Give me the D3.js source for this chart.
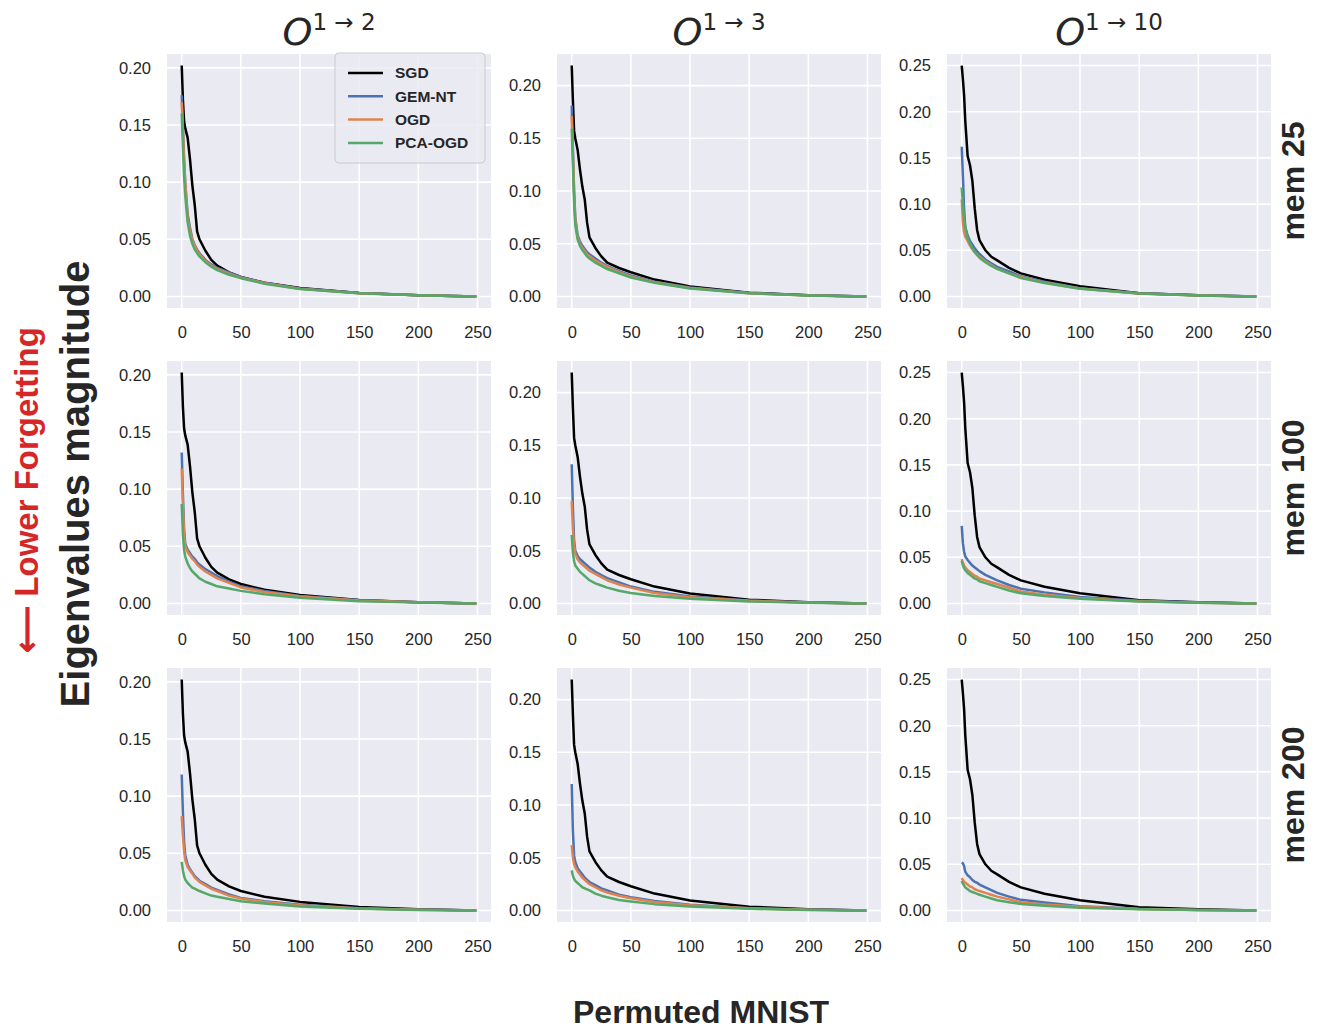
<!DOCTYPE html>
<html>
<head>
<meta charset="utf-8">
<script src="https://cdn.jsdelivr.net/npm/d3@7"></script>
<style>
  html, body { margin: 0; padding: 0; background: #ffffff; }
  svg { display: block; }
</style>
</head>
<body>
<svg id="chart" width="1317" height="1029"></svg>
<script>
// ---------------- DATA ----------------
const xSteps = [0,1,2,3,5,7,9,11,13,15,20,25,30,40,50,70,100,150,200,249];
const xTicks = [0,50,100,150,200,250];
const yTicksCol = [[0,0.05,0.10,0.15,0.20],[0,0.05,0.10,0.15,0.20],[0,0.05,0.10,0.15,0.20,0.25]];
const colSuper = ["1 \u2192 2","1 \u2192 3","1 \u2192 10"];
const rowLabels = ["mem 25","mem 100","mem 200"];
const seriesNames = ["SGD","GEM-NT","OGD","PCA-OGD"];
const seriesColors = ["#000000","#4c72b0","#dd8452","#55a868"];

// SGD does not depend on memory: one curve per column
const sgdCol1 = [0.202,0.172,0.153,0.147,0.139,0.120,0.097,0.080,0.057,0.050,0.040,0.032,0.027,0.021,0.017,0.012,0.0075,0.003,0.001,0.0];
const sgdCol2 = [0.219,0.185,0.157,0.150,0.139,0.120,0.104,0.092,0.070,0.056,0.046,0.038,0.032,0.027,0.023,0.016,0.0095,0.0035,0.0012,0.0];
const sgdCol3 = [0.250,0.235,0.218,0.190,0.152,0.142,0.125,0.095,0.072,0.061,0.050,0.043,0.039,0.031,0.025,0.018,0.011,0.0035,0.0012,0.0];

// row 1: mem 25
const gemR1C1 = [0.176,0.150,0.120,0.098,0.072,0.060,0.050,0.045,0.041,0.038,0.032,0.028,0.025,0.021,0.017,0.012,0.007,0.003,0.001,0.0];
const ogdR1C1 = [0.170,0.145,0.118,0.100,0.068,0.058,0.049,0.044,0.040,0.037,0.031,0.027,0.024,0.020,0.0165,0.0115,0.0068,0.0029,0.001,0.0];
const pcaR1C1 = [0.160,0.130,0.105,0.088,0.065,0.053,0.046,0.041,0.038,0.035,0.030,0.026,0.023,0.019,0.016,0.011,0.0065,0.0028,0.001,0.0];
const gemR1C2 = [0.181,0.140,0.100,0.075,0.058,0.052,0.048,0.045,0.042,0.040,0.036,0.032,0.029,0.024,0.020,0.014,0.0085,0.0033,0.0011,0.0];
const ogdR1C2 = [0.171,0.135,0.098,0.073,0.056,0.050,0.046,0.043,0.040,0.038,0.034,0.031,0.028,0.023,0.019,0.0135,0.008,0.003,0.001,0.0];
const pcaR1C2 = [0.159,0.125,0.090,0.068,0.054,0.048,0.044,0.041,0.038,0.036,0.032,0.029,0.026,0.022,0.018,0.013,0.0075,0.003,0.001,0.0];
const gemR1C3 = [0.162,0.130,0.095,0.075,0.066,0.060,0.056,0.052,0.049,0.046,0.040,0.036,0.032,0.027,0.022,0.016,0.009,0.0035,0.0012,0.0];
const ogdR1C3 = [0.105,0.080,0.069,0.065,0.060,0.055,0.051,0.048,0.045,0.043,0.038,0.034,0.030,0.025,0.021,0.015,0.0085,0.0033,0.0011,0.0];
const pcaR1C3 = [0.118,0.100,0.085,0.075,0.063,0.057,0.052,0.048,0.045,0.042,0.037,0.033,0.030,0.025,0.020,0.0145,0.0083,0.0032,0.001,0.0];

// row 2: mem 100
const gemR2C1 = [0.132,0.095,0.065,0.052,0.047,0.044,0.041,0.039,0.036,0.034,0.030,0.027,0.024,0.019,0.015,0.011,0.0065,0.0027,0.001,0.0];
const ogdR2C1 = [0.118,0.085,0.060,0.050,0.045,0.042,0.039,0.037,0.034,0.032,0.028,0.025,0.022,0.018,0.014,0.010,0.006,0.0025,0.001,0.0];
const pcaR2C1 = [0.087,0.060,0.047,0.041,0.035,0.031,0.028,0.026,0.024,0.022,0.019,0.017,0.015,0.013,0.011,0.008,0.005,0.002,0.0008,0.0];
const gemR2C2 = [0.132,0.090,0.060,0.050,0.045,0.042,0.040,0.038,0.036,0.034,0.030,0.027,0.024,0.020,0.016,0.011,0.0065,0.0027,0.001,0.0];
const ogdR2C2 = [0.097,0.070,0.055,0.047,0.042,0.039,0.037,0.035,0.033,0.031,0.028,0.025,0.022,0.018,0.015,0.010,0.006,0.0025,0.0009,0.0];
const pcaR2C2 = [0.065,0.048,0.040,0.036,0.033,0.030,0.028,0.026,0.024,0.022,0.019,0.017,0.015,0.012,0.010,0.007,0.0045,0.0018,0.0006,0.0];
const gemR2C3 = [0.084,0.065,0.056,0.051,0.047,0.044,0.041,0.039,0.037,0.035,0.031,0.028,0.025,0.020,0.016,0.012,0.007,0.0028,0.001,0.0];
const ogdR2C3 = [0.048,0.044,0.041,0.039,0.036,0.034,0.032,0.030,0.029,0.027,0.025,0.023,0.021,0.017,0.013,0.0095,0.0058,0.0023,0.0008,0.0];
const pcaR2C3 = [0.046,0.041,0.038,0.036,0.033,0.031,0.029,0.027,0.026,0.024,0.022,0.020,0.018,0.014,0.011,0.008,0.005,0.002,0.0007,0.0];

// row 3: mem 200
const gemR3C1 = [0.119,0.085,0.060,0.048,0.040,0.036,0.033,0.030,0.028,0.026,0.023,0.020,0.018,0.014,0.011,0.008,0.005,0.002,0.0008,0.0];
const ogdR3C1 = [0.0825,0.065,0.052,0.044,0.038,0.035,0.032,0.029,0.027,0.025,0.022,0.019,0.017,0.013,0.0105,0.0075,0.0045,0.0018,0.0007,0.0];
const pcaR3C1 = [0.0425,0.035,0.030,0.027,0.024,0.022,0.020,0.019,0.018,0.017,0.015,0.013,0.012,0.010,0.008,0.006,0.0035,0.0015,0.0005,0.0];
const gemR3C2 = [0.120,0.075,0.052,0.046,0.040,0.037,0.034,0.031,0.029,0.027,0.024,0.021,0.019,0.015,0.0125,0.009,0.0055,0.0022,0.0008,0.0];
const ogdR3C2 = [0.062,0.050,0.044,0.041,0.037,0.034,0.031,0.029,0.027,0.025,0.022,0.019,0.017,0.014,0.0115,0.008,0.005,0.002,0.0007,0.0];
const pcaR3C2 = [0.038,0.033,0.030,0.028,0.026,0.024,0.022,0.021,0.020,0.019,0.016,0.014,0.0125,0.010,0.0085,0.006,0.0038,0.0015,0.0005,0.0];
const gemR3C3 = [0.052,0.051,0.048,0.042,0.038,0.036,0.033,0.031,0.030,0.028,0.025,0.022,0.019,0.015,0.0115,0.0085,0.0045,0.0018,0.0006,0.0];
const ogdR3C3 = [0.035,0.033,0.031,0.030,0.028,0.026,0.025,0.023,0.022,0.021,0.019,0.017,0.015,0.012,0.0088,0.0065,0.004,0.0015,0.0005,0.0];
const pcaR3C3 = [0.032,0.029,0.027,0.025,0.023,0.021,0.020,0.019,0.018,0.017,0.015,0.013,0.011,0.009,0.007,0.005,0.003,0.0012,0.0004,0.0];

const sgdByCol = [sgdCol1, sgdCol2, sgdCol3];
const panelSeries = [
  [[gemR1C1,ogdR1C1,pcaR1C1],[gemR1C2,ogdR1C2,pcaR1C2],[gemR1C3,ogdR1C3,pcaR1C3]],
  [[gemR2C1,ogdR2C1,pcaR2C1],[gemR2C2,ogdR2C2,pcaR2C2],[gemR2C3,ogdR2C3,pcaR2C3]],
  [[gemR3C1,ogdR3C1,pcaR3C1],[gemR3C2,ogdR3C2,pcaR3C2],[gemR3C3,ogdR3C3,pcaR3C3]]
];

// ---------------- LAYOUT ----------------
const svg = d3.select("#chart");
const panelLeft = [167, 557, 947];
const panelTop = [54, 361, 668];
const panelW = 324, panelH = 254;
const FONT = "'Liberation Sans', Arial, Helvetica, sans-serif";
const textColor = "#262626";

const xMin = 0, xMax = 249;
const xPad = (xMax - xMin) * 0.05;

for (let r = 0; r < 3; r++) {
  for (let c = 0; c < 3; c++) {
    const g = svg.append("g").attr("transform", `translate(${panelLeft[c]},${panelTop[r]})`);
    const allSeries = [sgdByCol[c]].concat(panelSeries[r][c]);
    const yMaxData = d3.max(allSeries, s => d3.max(s));
    const yMinData = d3.min(allSeries, s => d3.min(s));
    const yPad = (yMaxData - yMinData) * 0.05;
    const x = d3.scaleLinear().domain([xMin - xPad, xMax + xPad]).range([0, panelW]);
    const y = d3.scaleLinear().domain([yMinData - yPad, yMaxData + yPad]).range([panelH, 0]);

    g.append("rect").attr("width", panelW).attr("height", panelH).attr("fill", "#eaeaf2");

    // grid
    g.selectAll(".gx").data(xTicks).enter().append("line")
      .attr("x1", d => x(d)).attr("x2", d => x(d)).attr("y1", 0).attr("y2", panelH)
      .attr("stroke", "#ffffff").attr("stroke-width", 1.6);
    g.selectAll(".gy").data(yTicksCol[c]).enter().append("line")
      .attr("y1", d => y(d)).attr("y2", d => y(d)).attr("x1", 0).attr("x2", panelW)
      .attr("stroke", "#ffffff").attr("stroke-width", 1.6);

    // axes
    const xAxis = g.append("g").attr("transform", `translate(0,${panelH})`)
      .call(d3.axisBottom(x).tickValues(xTicks).tickSize(0).tickPadding(18).tickFormat(d3.format("d")));
    const yAxis = g.append("g")
      .call(d3.axisLeft(y).tickValues(yTicksCol[c]).tickSize(0).tickPadding(16).tickFormat(d3.format(".2f")));
    [xAxis, yAxis].forEach(a => {
      a.select(".domain").remove();
      a.selectAll("text").attr("font-family", FONT).attr("font-size", 16.5).attr("fill", textColor);
    });

    // lines
    const line = d3.line().x((d, i) => x(xSteps[i])).y(d => y(d));
    allSeries.forEach((s, k) => {
      g.append("path").datum(s).attr("d", line)
        .attr("fill", "none").attr("stroke", seriesColors[k]).attr("stroke-width", 2.5)
        .attr("stroke-linejoin", "round").attr("stroke-linecap", "butt");
    });

    // legend in first panel
    if (r === 0 && c === 0) {
      const lg = g.append("g").attr("transform", `translate(${335 - panelLeft[0]},${53 - panelTop[0]})`);
      lg.append("rect").attr("width", 150).attr("height", 110).attr("rx", 4)
        .attr("fill", "#eaeaf2").attr("fill-opacity", 0.85).attr("stroke", "#cccccc").attr("stroke-width", 1);
      seriesNames.forEach((n, k) => {
        const yy = 20 + k * 23.3;
        lg.append("line").attr("x1", 13).attr("x2", 48).attr("y1", yy).attr("y2", yy)
          .attr("stroke", seriesColors[k]).attr("stroke-width", 2.5);
        lg.append("text").attr("x", 60).attr("y", yy).attr("dy", "0.35em")
          .attr("font-family", FONT).attr("font-size", 15.5).attr("font-weight", "bold")
          .attr("fill", textColor).text(n);
      });
    }
  }
}

// column titles
colSuper.forEach((s, c) => {
  const t = svg.append("text").attr("x", panelLeft[c] + 162).attr("y", 45)
    .attr("text-anchor", "middle").attr("font-family", "'DejaVu Sans', sans-serif").attr("fill", textColor);
  t.append("tspan").attr("font-style", "italic").attr("font-size", 38).text("O");
  t.append("tspan").attr("dy", -15).attr("font-size", 23).text(s);
});

// row labels
rowLabels.forEach((s, r) => {
  svg.append("text")
    .attr("transform", `translate(1304,${panelTop[r] + panelH / 2}) rotate(-90)`)
    .attr("text-anchor", "middle")
    .attr("font-family", FONT).attr("font-size", 32).attr("font-weight", "bold").attr("fill", textColor)
    .text(s);
});

// y label
svg.append("text")
  .attr("transform", `translate(89,484) rotate(-90)`)
  .attr("text-anchor", "middle")
  .attr("font-family", FONT).attr("font-size", 40).attr("font-weight", "bold").attr("fill", textColor)
  .text("Eigenvalues magnitude");

svg.append("text")
  .attr("transform", `translate(38,490) rotate(-90)`)
  .attr("text-anchor", "middle")
  .attr("font-family", FONT).attr("font-size", 33).attr("font-weight", "bold").attr("fill", "#d62728")
  .text("\u27F5 Lower Forgetting");

// x label
svg.append("text")
  .attr("x", 701).attr("y", 1023)
  .attr("text-anchor", "middle")
  .attr("font-family", FONT).attr("font-size", 32).attr("font-weight", "bold").attr("fill", textColor)
  .text("Permuted MNIST");
</script>
</body>
</html>
